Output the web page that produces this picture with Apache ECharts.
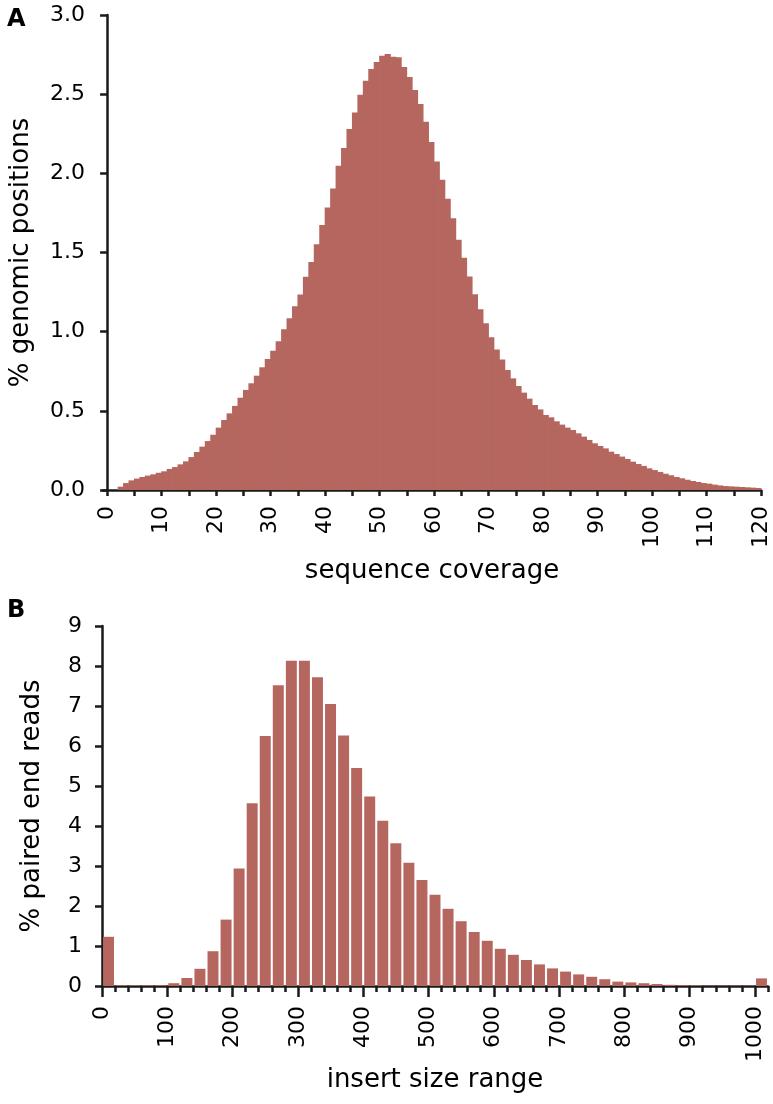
<!DOCTYPE html>
<html>
<head>
<meta charset="utf-8">
<script src="https://cdn.jsdelivr.net/npm/echarts@6/dist/echarts.min.js"></script>
<style>html,body{margin:0;padding:0;background:#fff}#c{width:773px;height:1104px}</style>
</head>
<body>
<div id="c"></div>
<script>
// Panel A: sequence coverage histogram (bins of width 1, first bin starts at 2)
const coverageFirstBin = 2;
const coveragePct = [
  0.021,0.044,0.061,0.072,0.082,0.091,0.099,0.109,0.118,0.133,
  0.145,0.162,0.181,0.208,0.240,0.274,0.309,0.349,0.394,0.442,
  0.484,0.531,0.583,0.632,0.674,0.722,0.775,0.827,0.880,0.939,
  1.015,1.084,1.160,1.234,1.347,1.440,1.552,1.674,1.785,1.905,
  2.048,2.160,2.280,2.385,2.497,2.585,2.659,2.703,2.743,2.754,
  2.737,2.733,2.672,2.608,2.526,2.438,2.326,2.198,2.074,1.960,
  1.840,1.716,1.581,1.467,1.349,1.236,1.141,1.053,0.964,0.888,
  0.825,0.758,0.705,0.657,0.615,0.577,0.537,0.509,0.474,0.459,
  0.434,0.413,0.394,0.379,0.358,0.337,0.316,0.295,0.278,0.263,
  0.242,0.227,0.211,0.196,0.179,0.164,0.152,0.137,0.126,0.114,
  0.103,0.093,0.082,0.074,0.065,0.057,0.051,0.044,0.040,0.034,
  0.029,0.025,0.023,0.021,0.019,0.017,0.015,0.013
];
const coverageTicks = [0,5,10,15,20,25,30,35,40,45,50,55,60,65,70,75,80,85,90,95,100,105,110,115,120];
const coverageLabels = [0,10,20,30,40,50,60,70,80,90,100,110,120];

// Panel B: insert size histogram (bins of width 20)
const insertBinWidth = 20;
const insertPct = [
  1.23,0.02,0.02,0.02,0.02,0.07,0.20,0.43,0.87,1.66,
  2.94,4.57,6.25,7.52,8.13,8.13,7.72,7.05,6.26,5.45,
  4.74,4.13,3.57,3.08,2.65,2.28,1.93,1.62,1.35,1.13,
  0.93,0.78,0.65,0.54,0.44,0.36,0.29,0.23,0.17,0.11,
  0.09,0.07,0.05,0.03,0.02,0.02,0.01,0.01,0.01,0.01,
  0.19
];
const insertMinorTicks = [0,20,40,60,80,100,120,140,160,180,200,220,240,260,280,300,320,340,360,380,400,420,440,460,480,500,520,540,560,580,600,620,640,660,680,700,720,740,760,780,800,820,840,860,880,900,920,940,960,980,1000,1020];
const insertMajorTicks = [0,100,200,300,400,500,600,700,800,900,1000];

const barColor = '#b5675f';
const axisColor = '#1a1a1a';
const font = 'DejaVu Sans';

const covData = coveragePct.map((v, i) => [coverageFirstBin + i + 0.5, v]);
const insData = insertPct.map((v, i) => [i * insertBinWidth + insertBinWidth / 2, v]);

const chart = echarts.init(document.getElementById('c'), null, {renderer: 'canvas'});
const axisLine = {show: true, lineStyle: {color: axisColor, width: 2.5}};

chart.setOption({
  animation: false,
  backgroundColor: '#fff',
  textStyle: {fontFamily: font},
  title: [
    {text: 'A', left: 2, top: 3, textStyle: {fontFamily: font, fontWeight: 'bold', fontSize: 24, color: '#000'}},
    {text: 'B', left: 2, top: 594, textStyle: {fontFamily: font, fontWeight: 'bold', fontSize: 24, color: '#000'}}
  ],
  grid: [
    {left: 102, right: 12, top: 15, bottom: 614, containLabel: false},
    {left: 102, right: 5, top: 626, bottom: 118, containLabel: false}
  ],
  xAxis: [
    {
      gridIndex: 0, type: 'value', min: -0.75, max: 120,
      name: 'sequence coverage', nameLocation: 'middle', nameGap: 68,
      nameTextStyle: {fontFamily: font, fontSize: 26, color: '#000'},
      axisLine: axisLine,
      axisTick: {show: true, length: 6, customValues: coverageTicks, lineStyle: {color: axisColor, width: 2.5}},
      axisLabel: {show: true, rotate: 90, margin: 16, customValues: coverageLabels, fontFamily: font, fontSize: 22, color: '#000', formatter: v => String(v)},
      splitLine: {show: false}
    },
    {
      gridIndex: 1, type: 'value', min: 0, max: 1020,
      name: 'insert size range', nameLocation: 'middle', nameGap: 81,
      nameTextStyle: {fontFamily: font, fontSize: 26, color: '#000'},
      axisLine: axisLine,
      axisTick: {show: true, length: 6, customValues: insertMinorTicks, lineStyle: {color: axisColor, width: 2.5}},
      axisLabel: {show: true, rotate: 90, margin: 20, customValues: insertMajorTicks, fontFamily: font, fontSize: 22, color: '#000', formatter: v => String(v)},
      splitLine: {show: false}
    },
    {
      gridIndex: 1, type: 'value', min: 0, max: 1020, position: 'bottom',
      axisLine: {show: false},
      axisTick: {show: true, length: 11, customValues: insertMajorTicks, lineStyle: {color: axisColor, width: 2.5}},
      axisLabel: {show: false},
      splitLine: {show: false}
    }
  ],
  yAxis: [
    {
      gridIndex: 0, type: 'value', min: 0, max: 3, interval: 0.5,
      name: '% genomic positions', nameLocation: 'middle', nameGap: 69,
      nameTextStyle: {fontFamily: font, fontSize: 26, color: '#000'},
      axisLine: axisLine,
      axisTick: {show: true, length: 7, lineStyle: {color: axisColor, width: 2.5}},
      axisLabel: {margin: 18, fontFamily: font, fontSize: 22, color: '#000', formatter: v => v.toFixed(1)},
      splitLine: {show: false}
    },
    {
      gridIndex: 1, type: 'value', min: 0, max: 9, interval: 1,
      name: '% paired end reads', nameLocation: 'middle', nameGap: 57,
      nameTextStyle: {fontFamily: font, fontSize: 26, color: '#000'},
      axisLine: axisLine,
      axisTick: {show: true, length: 7, lineStyle: {color: axisColor, width: 2.5}},
      axisLabel: {margin: 20, fontFamily: font, fontSize: 22, color: '#000'},
      splitLine: {show: false}
    }
  ],
  series: [
    {
      type: 'bar', xAxisIndex: 0, yAxisIndex: 0, data: covData,
      barWidth: 6.2, barGap: '-100%', z: 1,
      itemStyle: {color: barColor}
    },
    {
      type: 'bar', xAxisIndex: 1, yAxisIndex: 1, data: insData,
      barWidth: '84%', z: 1,
      itemStyle: {color: barColor}
    }
  ]
});
</script>
</body>
</html>
